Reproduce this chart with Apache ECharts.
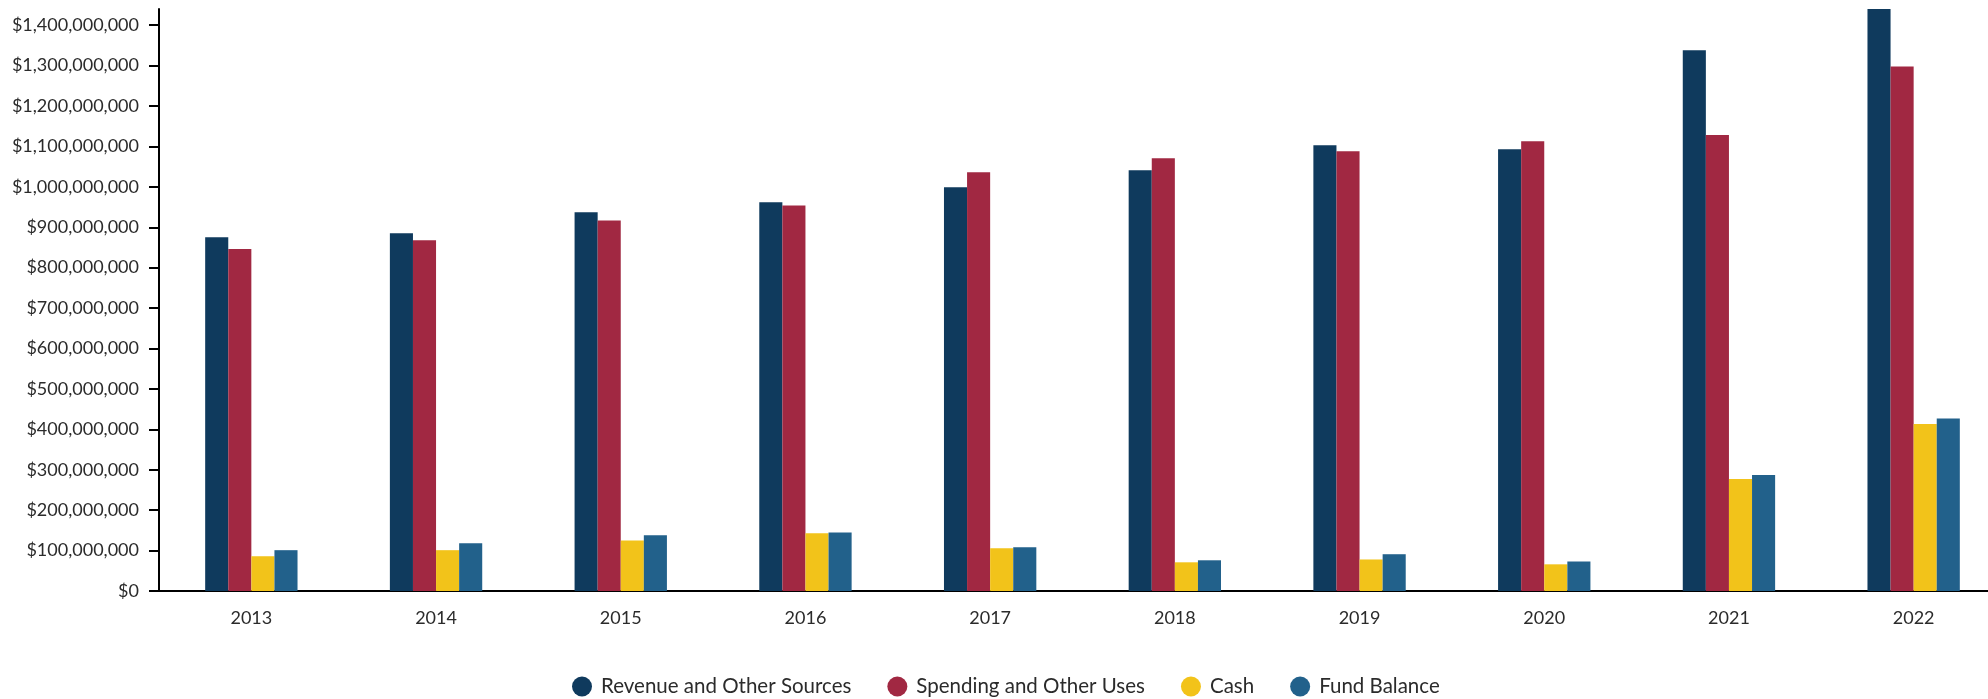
<!DOCTYPE html>
<html>
<head>
<meta charset="utf-8">
<script src="https://cdn.jsdelivr.net/npm/echarts@6/dist/echarts.min.js"></script>
<style>
    html, body { margin: 0; padding: 0; background: #fff; }
    #chart { width: 1988px; height: 699px; }
</style>
</head>
<body>
<div id="chart"></div>
<script>
const years = ['2013', '2014', '2015', '2016', '2017', '2018', '2019', '2020', '2021', '2022'];
const seriesNames = ['Revenue and Other Sources', 'Spending and Other Uses', 'Cash', 'Fund Balance'];

// values, in dollars
const revenue = [875e6, 885e6, 937e6, 962e6, 999e6, 1041e6, 1103e6, 1093e6, 1338e6, 1440e6];
const spending = [846e6, 868e6, 917e6, 954e6, 1036e6, 1071e6, 1088e6, 1113e6, 1128e6, 1298e6];
const cash = [86e6, 101e6, 125e6, 143e6, 106e6, 71e6, 78e6, 66e6, 277e6, 413e6];
const fundBalance = [101e6, 118e6, 138e6, 145e6, 108e6, 76e6, 91e6, 73e6, 287e6, 427e6];

const colors = ['#0f3a5d', '#a12842', '#f2c31a', '#22618b'];
const textColor = '#2b2b2b';
const font = 'Lato';

let moneyFormatter = (value) => '$' + value.toLocaleString('en-US');

const allData = [revenue, spending, cash, fundBalance];
const series = [];
for (var i = 0; i < allData.length; i++) {
    series.push({
        name: seriesNames[i],
        type: 'bar',
        data: allData[i],
        color: colors[i],
        barGap: 0,
        barCategoryGap: '50%'
    });
}

const chart = echarts.init(document.getElementById('chart'));
chart.setOption({
    animation: false,
    textStyle: { fontFamily: font },
    // the plot runs a little past the right edge, like the original
    grid: {
        left: 159,
        width: 1847,
        top: 9,
        bottom: 108,
        outerBoundsMode: 'none'
    },
    legend: {
        top: 671,
        left: 567,
        icon: 'circle',
        itemWidth: 20,
        itemHeight: 20,
        itemGap: 36,
        textStyle: {
            fontFamily: font,
            fontSize: 20.5,
            color: textColor,
            padding: [0, 0, 0, 4]
        },
        data: seriesNames
    },
    xAxis: {
        type: 'category',
        data: years,
        axisLine: { lineStyle: { color: '#000', width: 2 } },
        axisTick: { alignWithLabel: true, length: 9, lineStyle: { color: '#000', width: 2 } },
        axisLabel: {
            color: textColor,
            fontFamily: font,
            fontSize: 18,
            margin: 18
        }
    },
    yAxis: {
        type: 'value',
        min: 0,
        max: 'dataMax',
        interval: 100e6,
        axisLine: { show: true, lineStyle: { color: '#000', width: 2 } },
        axisTick: { show: true, length: 10, lineStyle: { color: '#000', width: 2 } },
        splitLine: { show: false },
        axisLabel: {
            color: textColor,
            fontFamily: font,
            fontSize: 18,
            margin: 20,
            formatter: moneyFormatter
        }
    },
    series: series
});

window.addEventListener('resize', () => {
    chart.resize();
});
</script>
</body>
</html>
